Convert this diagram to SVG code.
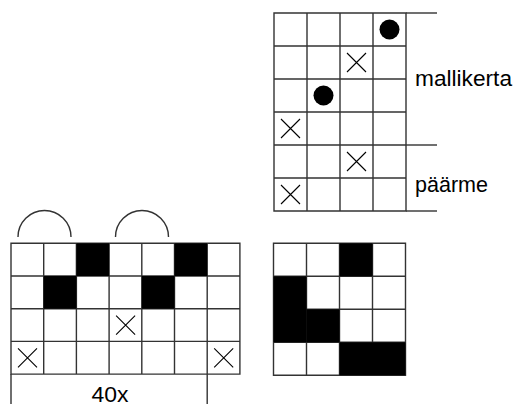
<svg xmlns="http://www.w3.org/2000/svg" width="514" height="406" viewBox="0 0 514 406">
<style>
.l{stroke:#333;stroke-width:1.4;fill:none}
.x{stroke:#000;stroke-width:1.1;fill:none}
.t{font-family:"Liberation Sans",Arial,sans-serif;font-size:21.5px;fill:#000}
</style>
<defs>
<path id="X" class="x" d="M7,7L26,26M26,7L7,26"/>
</defs>
<g id="pattern-chart">
<g class="l">
<line x1="406" y1="13" x2="437" y2="13"/>
<line x1="406" y1="145" x2="437" y2="145"/>
<line x1="406" y1="211" x2="437" y2="211"/>
</g>
<path class="l" d="M274,13H406V211H274Z M307,13V211 M340,13V211 M373,13V211 M274,46H406 M274,79H406 M274,112H406 M274,145H406 M274,178H406"/>
<circle cx="389.5" cy="29.5" r="10" fill="#000"/>
<circle cx="323.5" cy="95.5" r="10" fill="#000"/>
<use href="#X" x="340" y="46"/>
<use href="#X" x="274" y="112"/>
<use href="#X" x="340" y="145"/>
<use href="#X" x="274" y="178"/>
<text class="t" x="415" y="86" textLength="97" lengthAdjust="spacingAndGlyphs">mallikerta</text>
<text class="t" x="415" y="192" textLength="73" lengthAdjust="spacingAndGlyphs">päärme</text>
</g>
<g id="knit-chart">
<path class="l" d="M18,237A26.5,26.5 0 0 1 71,237 M115.5,237A26.5,26.5 0 0 1 168.5,237"/>
<path class="l" d="M11,243.3H239.9V374.1H11Z M43.7,243.3V374.1 M76.4,243.3V374.1 M109.1,243.3V374.1 M141.8,243.3V374.1 M174.5,243.3V374.1 M207.2,243.3V374.1 M11,276H239.9 M11,308.7H239.9 M11,341.4H239.9"/>
<rect x="76.4" y="243.3" width="32.7" height="32.7" fill="#000"/>
<rect x="174.5" y="243.3" width="32.7" height="32.7" fill="#000"/>
<rect x="43.7" y="276" width="32.7" height="32.7" fill="#000"/>
<rect x="141.8" y="276" width="32.7" height="32.7" fill="#000"/>
<path class="l" d="M11,374V404 M207.2,374V404"/>
<use href="#X" x="109.1" y="308.7"/>
<use href="#X" x="11" y="341.4"/>
<use href="#X" x="207.2" y="341.4"/>
<text class="t" x="91.5" y="401.5" textLength="37" lengthAdjust="spacingAndGlyphs">40x</text>
</g>
<g id="result-chart">
<path class="l" d="M273.5,243.3H405.5V375.3H273.5Z M306.5,243.3V375.3 M339.5,243.3V375.3 M372.5,243.3V375.3 M273.5,276.3H405.5 M273.5,309.3H405.5 M273.5,342.3H405.5"/>
<rect x="339.5" y="243.3" width="33" height="33" fill="#000"/>
<rect x="273.5" y="276.3" width="33" height="66" fill="#000"/>
<rect x="306.5" y="309.3" width="33" height="33" fill="#000"/>
<rect x="339.5" y="342.3" width="66" height="33" fill="#000"/>
</g>
</svg>
